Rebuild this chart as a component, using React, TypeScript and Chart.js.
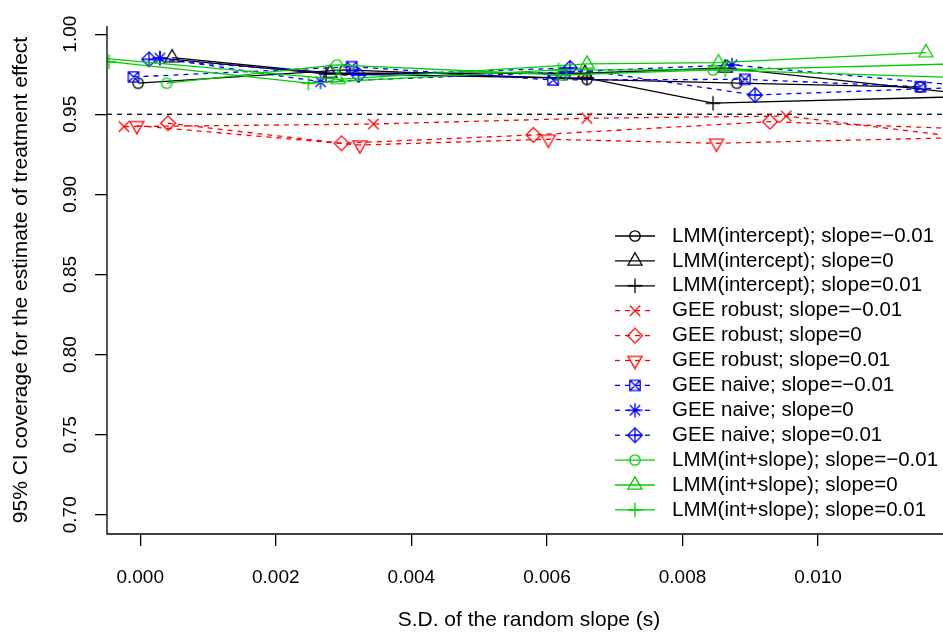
import { useEffect, useRef } from "react";
import { Chart, registerables } from "chart.js";

Chart.register(...registerables);

const FONT_FAMILY = '"Liberation Sans", Arial, Helvetica, sans-serif';

// Axis layout values
const X_TICKS = [0, 0.002, 0.004, 0.006, 0.008, 0.01];
const Y_TICKS = [0.7, 0.75, 0.8, 0.85, 0.9, 0.95, 1.0];
const X_MIN = -0.00049;
const X_MAX = 0.01196;
const Y_MIN = 0.688;
const Y_MAX = 1.0051;
const NOMINAL_COVERAGE = 0.95;

// LMM with random intercept only (jittered s, coverage)
const lmmIntNegS = [-0.00003, 0.00302, 0.00659, 0.0088, 0.0115];
const lmmIntNegCov = [0.9694, 0.9777, 0.9718, 0.9694, 0.967];
const lmmIntZeroS = [0.00047, 0.0028, 0.00656, 0.00863, 0.01217];
const lmmIntZeroCov = [0.9853, 0.9756, 0.9756, 0.9789, 0.9627];
const lmmIntPosS = [0.00029, 0.00274, 0.00659, 0.00845, 0.01217];
const lmmIntPosCov = [0.9851, 0.9752, 0.9725, 0.9569, 0.961];

// GEE with robust variance
const geeRobNegS = [-0.00024, 0.00344, 0.00659, 0.00953, 0.01217];
const geeRobNegCov = [0.9423, 0.9439, 0.9475, 0.9489, 0.9354];
const geeRobZeroS = [0.00041, 0.00297, 0.0058, 0.00929, 0.01217];
const geeRobZeroCov = [0.9444, 0.9319, 0.9371, 0.9454, 0.9409];
const geeRobPosS = [-0.00005, 0.00324, 0.00602, 0.0085, 0.01217];
const geeRobPosCov = [0.9429, 0.9308, 0.9344, 0.9319, 0.9355];

// GEE with naive variance
const geeNaiNegS = [-0.0001, 0.00312, 0.00609, 0.00892, 0.01151];
const geeNaiNegCov = [0.9733, 0.9797, 0.9714, 0.9718, 0.9672];
const geeNaiZeroS = [0.00029, 0.00266, 0.00627, 0.00873, 0.01217];
const geeNaiZeroCov = [0.985, 0.9703, 0.9764, 0.9808, 0.9677];
const geeNaiPosS = [0.00013, 0.00322, 0.00634, 0.00907, 0.01217];
const geeNaiPosCov = [0.9843, 0.9745, 0.9789, 0.962, 0.9669];

// LMM with random intercept and slope
const lmmSlpNegS = [0.00039, 0.0029, 0.00622, 0.00845, 0.01217];
const lmmSlpNegCov = [0.9694, 0.9808, 0.9745, 0.9777, 0.9727];
const lmmSlpZeroS = [-0.00059, 0.00292, 0.00659, 0.00853, 0.01159];
const lmmSlpZeroCov = [0.9851, 0.9718, 0.9814, 0.9822, 0.9885];
const lmmSlpPosS = [-0.00046, 0.00248, 0.00617, 0.00863, 0.01217];
const lmmSlpPosCov = [0.9828, 0.9694, 0.9777, 0.9777, 0.9816];

type MarkerKind =
  | "circle"
  | "triangle"
  | "plus"
  | "cross"
  | "diamond"
  | "triangleDown"
  | "boxCross"
  | "asterisk"
  | "diamondPlus";

interface Series {
  label: string;
  s: number[];
  cov: number[];
  color: string;
  marker: MarkerKind;
  dashed: boolean;
}

const BLACK = "#000000";
const RED = "#FF0000";
const BLUE = "#0000FF";
const GREEN = "#00CD00";

const SERIES: Series[] = [
  { label: "LMM(intercept); slope=\u22120.01", s: lmmIntNegS, cov: lmmIntNegCov, color: BLACK, marker: "circle", dashed: false },
  { label: "LMM(intercept); slope=0", s: lmmIntZeroS, cov: lmmIntZeroCov, color: BLACK, marker: "triangle", dashed: false },
  { label: "LMM(intercept); slope=0.01", s: lmmIntPosS, cov: lmmIntPosCov, color: BLACK, marker: "plus", dashed: false },
  { label: "GEE robust; slope=\u22120.01", s: geeRobNegS, cov: geeRobNegCov, color: RED, marker: "cross", dashed: true },
  { label: "GEE robust; slope=0", s: geeRobZeroS, cov: geeRobZeroCov, color: RED, marker: "diamond", dashed: true },
  { label: "GEE robust; slope=0.01", s: geeRobPosS, cov: geeRobPosCov, color: RED, marker: "triangleDown", dashed: true },
  { label: "GEE naive; slope=\u22120.01", s: geeNaiNegS, cov: geeNaiNegCov, color: BLUE, marker: "boxCross", dashed: true },
  { label: "GEE naive; slope=0", s: geeNaiZeroS, cov: geeNaiZeroCov, color: BLUE, marker: "asterisk", dashed: true },
  { label: "GEE naive; slope=0.01", s: geeNaiPosS, cov: geeNaiPosCov, color: BLUE, marker: "diamondPlus", dashed: true },
  { label: "LMM(int+slope); slope=\u22120.01", s: lmmSlpNegS, cov: lmmSlpNegCov, color: GREEN, marker: "circle", dashed: false },
  { label: "LMM(int+slope); slope=0", s: lmmSlpZeroS, cov: lmmSlpZeroCov, color: GREEN, marker: "triangle", dashed: false },
  { label: "LMM(int+slope); slope=0.01", s: lmmSlpPosS, cov: lmmSlpPosCov, color: GREEN, marker: "plus", dashed: false },
];

// Geometry of the drawing surface
const CANVAS_W = 960;
const CANVAS_H = 633;
const PLOT_LEFT = 107;
const PLOT_TOP = 26;
const PLOT_RIGHT = 951;
const PLOT_BOTTOM = 534;
const LINE_W = 1.3;
const DASH = [5, 5];
const SYMBOL_R = 5.2;

const TICK_FONT = 19;
const TITLE_FONT = 21;
const LEGEND_FONT = 20.5;
const LEGEND_LINE_X0 = 615;
const LEGEND_LINE_X1 = 655;
const LEGEND_TEXT_X = 672;
const LEGEND_Y0 = 236;
const LEGEND_STEP = 24.9;

// Plotting symbols in the style of R's pch 1..9
function makeMarker(kind: MarkerKind, color: string): HTMLCanvasElement {
  const size = 24;
  const c = document.createElement("canvas");
  c.width = size;
  c.height = size;
  const g = c.getContext("2d")!;
  g.translate(size / 2, size / 2);
  g.strokeStyle = color;
  g.lineWidth = LINE_W;
  g.lineJoin = "miter";
  const r = SYMBOL_R;
  const d = Math.SQRT2 * r;
  const tr = 1.5551 * r;
  const tx = 1.3468 * r;
  const ty = 0.7776 * r;
  g.beginPath();
  switch (kind) {
    case "circle":
      g.arc(0, 0, r, 0, Math.PI * 2);
      break;
    case "triangle":
      g.moveTo(0, -tr);
      g.lineTo(tx, ty);
      g.lineTo(-tx, ty);
      g.closePath();
      break;
    case "triangleDown":
      g.moveTo(0, tr);
      g.lineTo(tx, -ty);
      g.lineTo(-tx, -ty);
      g.closePath();
      break;
    case "plus":
      g.moveTo(-d, 0);
      g.lineTo(d, 0);
      g.moveTo(0, -d);
      g.lineTo(0, d);
      break;
    case "cross":
      g.moveTo(-r, -r);
      g.lineTo(r, r);
      g.moveTo(-r, r);
      g.lineTo(r, -r);
      break;
    case "diamond":
      g.moveTo(0, -d);
      g.lineTo(d, 0);
      g.lineTo(0, d);
      g.lineTo(-d, 0);
      g.closePath();
      break;
    case "boxCross":
      g.rect(-r, -r, 2 * r, 2 * r);
      g.moveTo(-r, -r);
      g.lineTo(r, r);
      g.moveTo(-r, r);
      g.lineTo(r, -r);
      break;
    case "asterisk":
      g.moveTo(-r, -r);
      g.lineTo(r, r);
      g.moveTo(-r, r);
      g.lineTo(r, -r);
      g.moveTo(-d, 0);
      g.lineTo(d, 0);
      g.moveTo(0, -d);
      g.lineTo(0, d);
      break;
    case "diamondPlus":
      g.moveTo(0, -d);
      g.lineTo(d, 0);
      g.lineTo(0, d);
      g.lineTo(-d, 0);
      g.closePath();
      g.moveTo(-d, 0);
      g.lineTo(d, 0);
      g.moveTo(0, -d);
      g.lineTo(0, d);
      break;
  }
  g.stroke();
  return c;
}

export default function App() {
  const canvasRef = useRef<HTMLCanvasElement | null>(null);

  useEffect(() => {
    const canvas = canvasRef.current;
    if (!canvas) return;

    const markers = SERIES.map((s) => makeMarker(s.marker, s.color));

    // Reference line at the nominal 95% level
    const nominalLine = {
      id: "nominalLine",
      beforeDatasetsDraw(chart: any) {
        const { ctx, chartArea, scales } = chart;
        const y = scales.y.getPixelForValue(NOMINAL_COVERAGE);
        ctx.save();
        ctx.strokeStyle = BLACK;
        ctx.lineWidth = LINE_W;
        ctx.setLineDash(DASH);
        ctx.beginPath();
        ctx.moveTo(chartArea.left, y);
        ctx.lineTo(chartArea.right, y);
        ctx.stroke();
        ctx.restore();
      },
    };

    // L-shaped frame (left and bottom sides) plus the key
    const frameAndKey = {
      id: "frameAndKey",
      afterDatasetsDraw(chart: any) {
        const { ctx, chartArea } = chart;
        ctx.save();
        ctx.strokeStyle = BLACK;
        ctx.lineWidth = LINE_W;
        ctx.setLineDash([]);
        ctx.beginPath();
        ctx.moveTo(chartArea.left, chartArea.top);
        ctx.lineTo(chartArea.left, chartArea.bottom);
        ctx.lineTo(chartArea.right, chartArea.bottom);
        ctx.stroke();

        SERIES.forEach((s, i) => {
          const y = LEGEND_Y0 + i * LEGEND_STEP;
          ctx.strokeStyle = s.color;
          ctx.lineWidth = LINE_W;
          ctx.setLineDash(s.dashed ? DASH : []);
          ctx.beginPath();
          ctx.moveTo(LEGEND_LINE_X0, y);
          ctx.lineTo(LEGEND_LINE_X1, y);
          ctx.stroke();
          ctx.setLineDash([]);
          const m = markers[i];
          ctx.drawImage(m, (LEGEND_LINE_X0 + LEGEND_LINE_X1) / 2 - m.width / 2, y - m.height / 2);
          ctx.fillStyle = BLACK;
          ctx.font = `${LEGEND_FONT}px ${FONT_FAMILY}`;
          ctx.textAlign = "left";
          ctx.textBaseline = "middle";
          ctx.fillText(s.label, LEGEND_TEXT_X, y);
        });
        ctx.restore();
      },
    };

    const axisGrid = {
      display: true,
      drawOnChartArea: false,
      drawTicks: true,
      tickLength: 12,
      tickColor: BLACK,
      tickWidth: LINE_W,
      color: BLACK,
      lineWidth: LINE_W,
    };

    const chart = new Chart(canvas, {
      type: "line",
      data: {
        datasets: SERIES.map((s, i) => ({
          label: s.label,
          data: s.s.map((x, j) => ({ x, y: s.cov[j] })),
          borderColor: s.color,
          borderWidth: LINE_W,
          borderDash: s.dashed ? DASH : [],
          pointStyle: markers[i],
          pointRadius: 5,
          pointHoverRadius: 5,
          pointBorderColor: s.color,
          pointBackgroundColor: "rgba(0,0,0,0)",
          fill: false,
          tension: 0,
          clip: 0,
          order: SERIES.length - 1 - i,
        })),
      },
      options: {
        animation: false,
        responsive: false,
        events: [],
        layout: {
          padding: { top: PLOT_TOP, right: CANVAS_W - PLOT_RIGHT, left: 0, bottom: 0 },
        },
        plugins: {
          legend: { display: false },
          tooltip: { enabled: false },
        },
        scales: {
          x: {
            type: "linear",
            min: X_MIN,
            max: X_MAX,
            afterBuildTicks: (scale: any) => {
              scale.ticks = X_TICKS.map((value) => ({ value }));
            },
            afterFit: (scale: any) => {
              scale.height = CANVAS_H - PLOT_BOTTOM;
              scale.paddingLeft = 0;
              scale.paddingRight = 0;
            },
            ticks: {
              callback: (v: any) => Number(v).toFixed(3),
              font: { family: FONT_FAMILY, size: TICK_FONT },
              color: BLACK,
              padding: 20,
              maxRotation: 0,
              minRotation: 0,
              autoSkip: false,
            },
            grid: axisGrid,
            border: { display: false },
            title: {
              display: true,
              text: "S.D. of the random slope (s)",
              font: { family: FONT_FAMILY, size: TITLE_FONT },
              color: BLACK,
              padding: { top: 0, bottom: 0 },
            },
          },
          y: {
            type: "linear",
            min: Y_MIN,
            max: Y_MAX,
            afterBuildTicks: (scale: any) => {
              scale.ticks = Y_TICKS.map((value) => ({ value }));
            },
            afterFit: (scale: any) => {
              scale.width = PLOT_LEFT;
              scale.paddingTop = 0;
              scale.paddingBottom = 0;
            },
            ticks: {
              callback: (v: any) => Number(v).toFixed(2),
              font: { family: FONT_FAMILY, size: TICK_FONT },
              color: BLACK,
              padding: 6,
              minRotation: 90,
              maxRotation: 90,
              crossAlign: "center",
              autoSkip: false,
            },
            grid: axisGrid,
            border: { display: false },
            title: {
              display: true,
              text: "95% CI coverage for the estimate of treatment effect",
              font: { family: FONT_FAMILY, size: TITLE_FONT },
              color: BLACK,
              padding: { top: 9, bottom: 0 },
            },
          },
        },
      },
      plugins: [nominalLine, frameAndKey],
    } as any);

    return () => chart.destroy();
  }, []);

  return (
    <div
      style={{
        position: "fixed",
        left: 0,
        top: 0,
        width: 943,
        height: 633,
        overflow: "hidden",
        background: "#ffffff",
      }}
    >
      <canvas
        ref={canvasRef}
        width={CANVAS_W}
        height={CANVAS_H}
        style={{ display: "block", width: CANVAS_W, height: CANVAS_H }}
      />
    </div>
  );
}
